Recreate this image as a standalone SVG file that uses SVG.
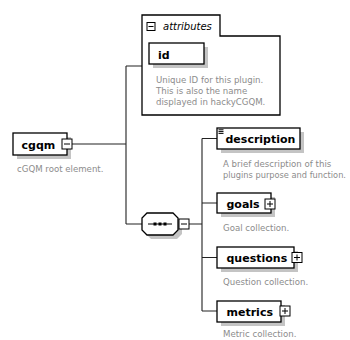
<svg xmlns="http://www.w3.org/2000/svg" width="350" height="340" viewBox="0 0 350 340">
  <style>
    .box { fill: #ffffff; stroke: #000000; stroke-width: 1.3; }
    .shadow { fill: #c4c4c4; stroke: none; }
    .wire { fill: none; stroke: #222222; stroke-width: 1.1; }
    .icon { fill: #ffffff; stroke: #000000; stroke-width: 1; }
    .glyph { fill: none; stroke: #000000; stroke-width: 1; }
    .name { font-family: "DejaVu Sans", Verdana, sans-serif; font-weight: bold; font-size: 11px; fill: #000000; }
    .note { font-family: "DejaVu Sans", Verdana, sans-serif; font-size: 8.6px; fill: #8c8c8c; }
    .group-title { font-family: "DejaVu Sans", Verdana, sans-serif; font-style: italic; font-size: 10px; fill: #000000; }
  </style>

  <!-- connectors -->
  <g id="connectors">
    <path class="wire" d="M72,144 H126 M126,66 V224 M126,66 H142 M126,224 H142"/>
    <path class="wire" d="M189,224 H202 M202,138.5 V311 M202,138.5 H217 M202,203 H217 M202,257.5 H217 M202,311 H217"/>
  </g>

  <!-- root element -->
  <g id="node-cgqm">
    <rect class="shadow" x="17" y="137" width="54" height="22"/>
    <rect class="box" x="13" y="133" width="54" height="22"/>
    <text class="name" x="21.5" y="148.5">cgqm</text>
    <rect class="icon" x="62" y="139" width="10" height="10"/>
    <path class="glyph" d="M64,144 H70"/>
    <text class="note" x="17" y="172">cGQM root element.</text>
  </g>

  <!-- attribute group -->
  <g id="node-attributes">
    <path class="box" d="M142,15 H220 V36 H280 V115 H142 Z"/>
    <rect class="icon" x="147" y="22.5" width="8" height="8"/>
    <path class="glyph" d="M148.5,26.5 H153.5"/>
    <text class="group-title" x="163" y="29.5">attributes</text>
  </g>

  <g id="node-id">
    <rect class="shadow" x="153" y="47" width="55" height="21"/>
    <rect class="box" x="149" y="43" width="55" height="21"/>
    <text class="name" x="158" y="58.5">id</text>
    <text class="note" x="156" y="82.5">Unique ID for this plugin.</text>
    <text class="note" x="156" y="93.5">This is also the name</text>
    <text class="note" x="156" y="104.5">displayed in hackyCGQM.</text>
  </g>

  <!-- sequence compositor -->
  <g id="node-sequence">
    <path class="shadow" d="M151,217 H177 L182,222 V234 L177,239 H151 L146,234 V222 Z"/>
    <path class="box" d="M147,213 H173 L178,218 V230 L173,235 H147 L142,230 V218 Z"/>
    <path class="glyph" d="M148,224 H172"/>
    <rect x="153.5" y="222.5" width="3" height="3" fill="#000000"/>
    <rect x="158.5" y="222.5" width="3" height="3" fill="#000000"/>
    <rect x="163.5" y="222.5" width="3" height="3" fill="#000000"/>
    <rect class="icon" x="179" y="219" width="10" height="10"/>
    <path class="glyph" d="M181,224 H187"/>
  </g>

  <!-- child elements -->
  <g id="node-description">
    <rect class="shadow" x="221" y="132" width="83" height="21"/>
    <rect class="box" x="217" y="128" width="83" height="21"/>
    <path class="glyph" d="M218.5,129.8 H223.5 M218.5,131.6 H223.5 M218.5,133.4 H223.5" stroke-width="0.8"/>
    <text class="name" x="225.5" y="143">description</text>
    <text class="note" x="223" y="166.5">A brief description of this</text>
    <text class="note" x="223" y="177.5" textLength="123" lengthAdjust="spacingAndGlyphs">plugins purpose and function.</text>
  </g>

  <g id="node-goals">
    <rect class="shadow" x="221" y="197" width="54" height="20"/>
    <rect class="box" x="217" y="193" width="54" height="20"/>
    <text class="name" x="226.5" y="207.5">goals</text>
    <rect class="icon" x="265" y="199" width="10" height="10"/>
    <path class="glyph" d="M267,204 H273 M270,201 V207"/>
    <text class="note" x="223" y="231">Goal collection.</text>
  </g>

  <g id="node-questions">
    <rect class="shadow" x="221" y="251" width="77" height="21"/>
    <rect class="box" x="217" y="247" width="77" height="21"/>
    <text class="name" x="226.5" y="262">questions</text>
    <rect class="icon" x="292" y="252.5" width="10" height="10"/>
    <path class="glyph" d="M294,257.5 H300 M297,254.5 V260.5"/>
    <text class="note" x="223" y="285">Question collection.</text>
  </g>

  <g id="node-metrics">
    <rect class="shadow" x="221" y="305" width="64" height="21"/>
    <rect class="box" x="217" y="301" width="64" height="21"/>
    <text class="name" x="226.5" y="316">metrics</text>
    <rect class="icon" x="280" y="306" width="10" height="10"/>
    <path class="glyph" d="M282,311 H288 M285,308 V314"/>
    <text class="note" x="223" y="337">Metric collection.</text>
  </g>
</svg>
